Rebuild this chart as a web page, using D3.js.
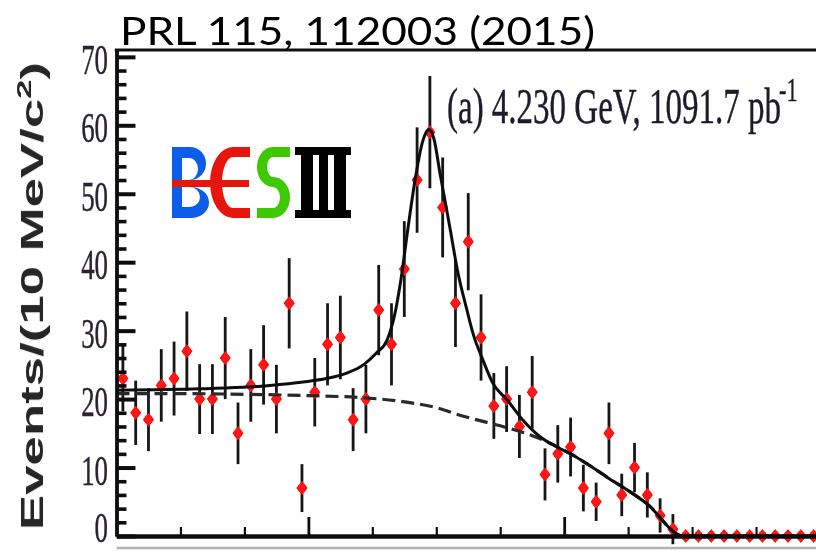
<!DOCTYPE html>
<html>
<head>
<meta charset="utf-8">
<script src="https://cdn.jsdelivr.net/npm/d3@7"></script>
<style>
  html, body { margin: 0; padding: 0; background: #fff; }
  svg { display: block; }
</style>
</head>
<body>
<svg id="chart" width="816" height="552"></svg>
<script>
// pi0 recoil mass bins, 10 MeV/c^2 wide (bin centres in MeV/c^2)
const binCentres = [3655,3665,3675,3685,3695,3705,3715,3725,3735,3745,3755,3765,3775,3785,3795,
  3805,3815,3825,3835,3845,3855,3865,3875,3885,3895,3905,3915,3925,3935,3945,3955,3965,3975,3985,
  3995,4005,4015,4025,4035,4045,4055,4065,4075,4085,4095,4105,4115,4125,4135,4145,4155,4165,4175,
  4185,4195];

// Events per bin and their statistical errors
const counts = [23,18,17,22,23,27,20,20,26,15,22,25,20,34,7,21,28,29,17,20,33,28,39,52,59,48,34,43,
  29,19,20,16,21,9,12,13,7,5,15,6,10,6,3,1,0,0,0,0,0,0,0,0,0,0,0];
const errors = [4.8,4.7,4.6,5.3,5.4,5.8,5.1,5.1,6.0,4.5,5.3,5.8,5.0,6.6,3.5,5.0,6.0,6.1,4.6,5.0,6.6,
  6.0,7.0,7.7,8.2,7.3,6.4,7.1,6.3,4.8,4.8,4.6,5.3,3.8,4.2,4.3,3.4,2.8,4.5,3.1,3.6,3.3,2.5,2.2,
  0,0,0,0,0,0,0,0,0,0,0];

// Total fit (signal + background), sampled along the curve
const fitMass  = [3650,3715,3770,3796,3814,3830,3843,3853,3861.5,3867.7,3872.4,3877.9,3883.4,3889.6,
  3894.3,3898.2,3902.9,3910.7,3917,3924,3928.7,3936.5,3944.3,3955.3,3967.8,3981.1,3994.4,4006.9,
  4033.5,4064.8,4093,4200];
const fitValue = [21.3,21.5,22.0,22.5,23.0,23.8,25.0,26.7,28.6,32.5,37.5,45.0,52.0,57.8,
  59.4,58.0,53.0,45.0,38.4,33.0,29.6,25.7,22.3,19.9,16.9,14.5,13.0,11.8,
  8.6,4.7,0,0];

// Background component
const bkgMass  = [3650,3700,3750,3800,3843,3875,3903,3916,3929,3950,3970,3985,4007,4033.5,4064.8,4093,4200];
const bkgValue = [20.8,20.8,20.7,20.5,20.2,19.6,18.6,17.8,17.1,16.1,15.0,13.9,11.8,8.6,4.7,0,0];

// Axis ticks
const yMajor = [0,10,20,30,40,50,60,70];
const yTickLabels = ["0","10","20","30","40","50","60","70"];
const yMinor = [2,4,6,8,12,14,16,18,22,24,26,28,32,34,36,38,42,44,46,48,52,54,56,58,62,64,66,68];
const xMajor = [3800,4000];
const xMinor = [3700,3750,3850,3900,3950,4050,4100,4150];

const title = "PRL 115, 112003 (2015)";
const panelLabel = "(a) 4.230 GeV, 1091.7 pb";
const panelLabelSup = "-1";

const svg = d3.select("#chart");
const x = d3.scaleLinear().domain([3650, 4200]).range([116.5, 820]);
const y = d3.scaleLinear().domain([0, 71]).range([536, 50]);

const defs = svg.append("defs");
defs.append("filter").attr("id", "soft")
  .attr("x", "-5%").attr("y", "-5%").attr("width", "110%").attr("height", "110%")
  .append("feGaussianBlur").attr("stdDeviation", 0.7);

const plot = svg.append("g").attr("filter", "url(#soft)");

// lower frame edge of the next panel
plot.append("line")
  .attr("x1", x(3650)).attr("x2", 816).attr("y1", 548).attr("y2", 548)
  .attr("stroke", "#b4b4b4").attr("stroke-width", 2.5);

const points = binCentres.map((m, i) => ({ m, v: counts[i], e: errors[i] }));

// error bars
plot.append("g").selectAll("line")
  .data(points.filter(d => d.e > 0))
  .join("line")
  .attr("x1", d => x(d.m)).attr("x2", d => x(d.m))
  .attr("y1", d => y(d.v - d.e)).attr("y2", d => y(d.v + d.e))
  .attr("stroke", "#151515").attr("stroke-width", 2.8);

// data markers: rounded diamonds
const markers = plot.append("g").selectAll("g")
  .data(points)
  .join("g")
  .attr("transform", d => `translate(${x(d.m)},${y(d.v)})`)
  .attr("fill", "#ff1212");
markers.append("path").attr("d", "M0,-7 L5.6,0 L0,7 L-5.6,0 Z");
markers.append("ellipse").attr("rx", 4.3).attr("ry", 4.8);

const line = d3.line().x(d => x(d[0])).y(d => y(d[1])).curve(d3.curveMonotoneX);

// background (dashed) and total fit (solid)
plot.append("path")
  .attr("d", line(d3.zip(bkgMass, bkgValue)))
  .attr("fill", "none").attr("stroke", "#2a2a2a").attr("stroke-width", 3.2)
  .attr("stroke-dasharray", "13,6");
plot.append("path")
  .attr("d", line(d3.zip(fitMass, fitValue)))
  .attr("fill", "none").attr("stroke", "#111").attr("stroke-width", 3);

// y axis: ticks point into the frame
function styleAxis(sel, w) {
  sel.selectAll("line").attr("stroke", "#111").attr("stroke-width", w);
  sel.select(".domain").attr("stroke", "#111").attr("stroke-width", 3.4);
}
plot.append("g").attr("transform", `translate(${x(3650)},0)`)
  .call(d3.axisLeft(y).tickValues(yMinor).tickSizeInner(-10).tickSizeOuter(0).tickFormat(""))
  .call(s => styleAxis(s, 3.6));
plot.append("g").attr("transform", `translate(${x(3650)},0)`)
  .call(d3.axisLeft(y).tickValues(yMajor).tickSizeInner(-19).tickSizeOuter(0).tickFormat(""))
  .call(s => styleAxis(s, 4));

// x axis
plot.append("g").attr("transform", `translate(0,${y(0)})`)
  .call(d3.axisBottom(x).tickValues(xMinor).tickSizeInner(-9).tickSizeOuter(0).tickFormat(""))
  .call(s => { styleAxis(s, 2.2); s.select(".domain").attr("stroke-width", 4.2); });
plot.append("g").attr("transform", `translate(0,${y(0)})`)
  .call(d3.axisBottom(x).tickValues(xMajor).tickSizeInner(-19).tickSizeOuter(0).tickFormat(""))
  .call(s => { styleAxis(s, 2.8); s.select(".domain").attr("stroke-width", 4.2); });

// top edge of the frame
plot.append("line")
  .attr("x1", x(3650) - 1.7).attr("x2", 816).attr("y1", y(71)).attr("y2", y(71))
  .attr("stroke", "#111").attr("stroke-width", 3);

// y tick labels (narrow serif numerals); the lowest one is kept inside the page
plot.append("g").selectAll("text")
  .data(yMajor)
  .join("text")
  .attr("transform", d => `translate(108,${Math.min(y(d) + 17, 542)}) scale(0.64,1)`)
  .attr("text-anchor", "end")
  .attr("font-family", "'Liberation Serif', 'Times New Roman', serif")
  .attr("font-size", 42)
  .attr("fill", "#2a2433")
  .attr("stroke", "#2a2433").attr("stroke-width", 0.4)
  .text((d, i) => yTickLabels[i]);

// panel label
const pl = plot.append("text")
  .attr("transform", "translate(447,123) scale(0.66,1)")
  .attr("font-family", "'Liberation Serif', 'Times New Roman', serif")
  .attr("font-size", 50)
  .attr("fill", "#1f1a2c")
  .attr("stroke", "#1f1a2c").attr("stroke-width", 0.4);
pl.append("tspan").text(panelLabel);
pl.append("tspan").attr("font-size", 34).attr("dx", -3).attr("dy", -22).text(panelLabelSup);

// y axis title
const yt = plot.append("text")
  .attr("transform", "translate(43,296) rotate(-90) scale(1.65,1)")
  .attr("text-anchor", "middle")
  .attr("font-family", "'Liberation Sans', Arial, sans-serif")
  .attr("font-weight", "bold")
  .attr("font-size", 32)
  .attr("fill", "#262626");
yt.append("tspan").text("Events/(10 MeV/c");
yt.append("tspan").attr("font-size", 21).attr("dy", -12).text("2");
yt.append("tspan").attr("dy", 12).text(")");

// reference title
svg.append("text")
  .attr("x", 120).attr("y", 45)
  .attr("font-family", "Lato, 'Open Sans', sans-serif")
  .attr("font-size", 39)
  .attr("textLength", 475).attr("lengthAdjust", "spacingAndGlyphs")
  .attr("fill", "#000")
  .text(title);

// BESIII logo
const logo = svg.append("g").attr("aria-label", "BESIII");
// B: two blue bowls
logo.append("path").attr("fill", "#0b5ee8").attr("fill-rule", "evenodd")
  .attr("d", "M172,147 H190 A16,16.5 0 0 1 190,180 H172 Z M182,158 H189 A9,11 0 0 1 189,180 H182 Z" +
             "M172,187 H191 A18,15.5 0 0 1 191,218 H172 Z M182,187 H190 A10,10 0 0 1 190,207 H182 Z");
// E: red open curve with the bar running through the B
logo.append("path").attr("fill", "#e8150c").attr("fill-rule", "evenodd")
  .attr("d", "M250,147 H233 A23,35.5 0 0 0 233,218 H250 V208 H233 A11,25.5 0 0 1 233,157 H250 Z");
logo.append("rect").attr("x", 172).attr("y", 180).attr("width", 77).attr("height", 7).attr("fill", "#e8150c");
// S: green
logo.append("path").attr("fill", "none").attr("stroke", "#3ec800").attr("stroke-width", 10)
  .attr("d", "M290,152 H273 A11,15 0 0 0 273,182 A12,15.5 0 0 1 273,213 H257");
// III: black roman numeral
logo.append("path").attr("fill", "#000")
  .attr("d", "M295,147 H351 V155 H295 Z M295,210 H351 V218 H295 Z" +
             "M301,155 H313 V210 H301 Z M319,155 H328 V210 H319 Z M334,155 H346 V210 H334 Z");
</script>
</body>
</html>
